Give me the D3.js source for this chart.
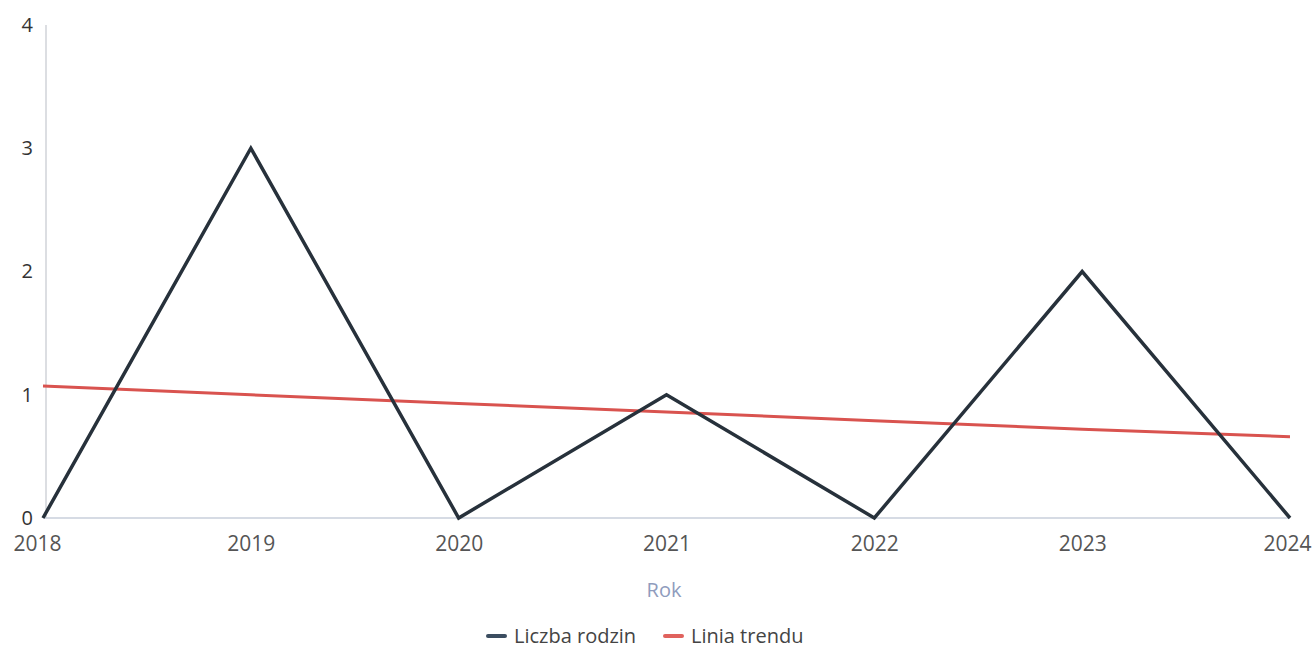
<!DOCTYPE html>
<html>
<head>
<meta charset="utf-8">
<script src="https://cdn.jsdelivr.net/npm/d3@7"></script>
<style>
  html, body { margin: 0; padding: 0; background: #ffffff; }
  svg { display: block; font-family: "Open Sans", "Noto Sans", sans-serif; }
</style>
</head>
<body>
<svg id="chart" width="1315" height="648"></svg>
<script>
const years = ["2018", "2019", "2020", "2021", "2022", "2023", "2024"];
const families = [0, 3, 0, 1, 0, 2, 0];
const trend = [1.07, 1.00, 0.93, 0.86, 0.79, 0.72, 0.66];
const yTicks = [0, 1, 2, 3, 4];
const seriesNames = ["Liczba rodzin", "Linia trendu"];
const xTitle = "Rok";

(function () {
const svg = d3.select("#chart");
const plotLeft = 43, plotRight = 1290, plotTop = 25, plotBottom = 518;

const x = d3.scalePoint().domain(years).range([plotLeft, plotRight]);
const y = d3.scaleLinear().domain([0, 4]).range([plotBottom, plotTop]);

// axis lines
svg.append("line").attr("x1", 46).attr("x2", 46).attr("y1", plotTop).attr("y2", plotBottom)
  .attr("stroke", "#d0d3d8").attr("stroke-width", 1.5);
svg.append("line").attr("x1", plotLeft).attr("x2", plotRight).attr("y1", plotBottom).attr("y2", plotBottom)
  .attr("stroke", "#c9cfdb").attr("stroke-width", 1.5);

// y axis labels
const yAxis = d3.axisLeft(y).tickValues(yTicks).tickSize(0).tickPadding(0).tickFormat(d3.format("d"));
const gy = svg.append("g").attr("transform", "translate(33,0)").call(yAxis);
gy.select(".domain").remove();
gy.selectAll("text").attr("font-size", 20).attr("fill", "#333").attr("font-family", "Open Sans");

// x axis labels
const xAxis = d3.axisBottom(x).tickSize(0).tickPadding(0);
const gx = svg.append("g").attr("transform", "translate(0,536)").call(xAxis);
gx.select(".domain").remove();
gx.selectAll("text").attr("font-size", 21).attr("fill", "#555").attr("font-family", "Open Sans")
  .attr("dx", (d, i) => i === 0 ? -6 : (i === years.length - 1 ? -3 : 0));

// x title
svg.append("text").attr("x", 664).attr("y", 597).attr("text-anchor", "middle")
  .attr("font-size", 20).attr("fill", "#8f9cbd").text(xTitle);

const line = d3.line().x((d, i) => x(years[i])).y(d => y(d));

svg.append("path").datum(trend).attr("d", line).attr("fill", "none")
  .attr("stroke", "#d9534f").attr("stroke-width", 3);
svg.append("path").datum(families).attr("d", line).attr("fill", "none")
  .attr("stroke", "#27313b").attr("stroke-width", 3.5).attr("stroke-linejoin", "miter");

// legend
const legendItems = [
  { name: seriesNames[0], color: "#3b4d60", x: 488 },
  { name: seriesNames[1], color: "#e0625d", x: 665 }
];
const lg = svg.append("g");
legendItems.forEach(it => {
  lg.append("line").attr("x1", it.x).attr("x2", it.x + 17).attr("y1", 636).attr("y2", 636)
    .attr("stroke", it.color).attr("stroke-width", 4).attr("stroke-linecap", "round");
  lg.append("text").attr("x", it.x + 26).attr("y", 643).attr("font-size", 20)
    .attr("fill", "#444").text(it.name);
});
})();
</script>
</body>
</html>
